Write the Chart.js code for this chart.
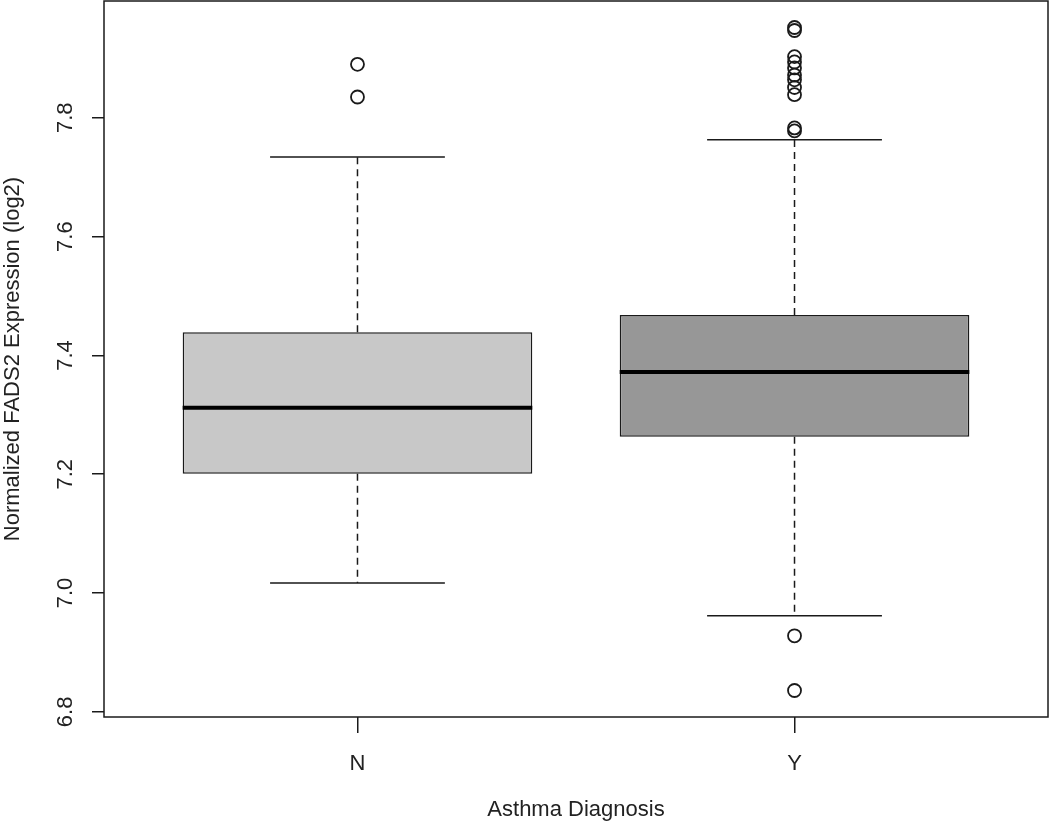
<!DOCTYPE html>
<html>
<head>
<meta charset="utf-8">
<script src="https://cdn.jsdelivr.net/npm/chart.js@4"></script>
<style>
  html, body { margin: 0; padding: 0; background: #fff; }
  #wrap { width: 1050px; height: 833px; }
</style>
</head>
<body>
<div id="wrap"><canvas id="boxChart"></canvas></div>
<script>
// boxplot summary
const groups        = ['N', 'Y'];
const lowerWhisker  = [7.017, 6.962];
const q1            = [7.201, 7.263];
const median        = [7.312, 7.372];
const q3            = [7.439, 7.468];
const upperWhisker  = [7.734, 7.763];
const outliersN     = [7.890, 7.835];
const outliersY     = [7.952, 7.947, 7.903, 7.894, 7.884, 7.872, 7.864, 7.851, 7.839, 7.783, 7.778, 6.928, 6.836];
const yTicks        = [6.8, 7.0, 7.2, 7.4, 7.6, 7.8];
const boxFill       = ['#c8c8c8', '#979797'];

const BOX_W  = 0.8;   // like R boxwex
const CAP_W  = 0.4;
const INK    = '#1a1a1a';

// R style axis limits: data range + 4%
const allVals = [].concat(lowerWhisker, upperWhisker, outliersN, outliersY);
const dMin = Math.min(...allVals), dMax = Math.max(...allVals);
const pad  = (dMax - dMin) * 0.04;
const xPad = (groups.length) * 0.04;

function segs(fn) {
  // build line points with null gaps between groups
  const pts = [];
  groups.forEach((g, i) => {
    fn(i + 1, i).forEach(p => pts.push(p));
    pts.push({ x: i + 1.5, y: null });
  });
  return pts;
}

const datasets = [
  {
    type: 'bar',
    data: groups.map((g, i) => ({ x: i + 1, y: [q1[i], q3[i]] })),
    backgroundColor: boxFill,
    borderColor: INK,
    borderWidth: 1.5,
    borderSkipped: false,
    barPercentage: BOX_W,
    categoryPercentage: 1,
    order: 10
  },
  {
    type: 'line',
    data: segs((x, i) => [{ x: x, y: q3[i] }, { x: x, y: upperWhisker[i] }, { x: x + 0.01, y: null },
                          { x: x, y: q1[i] }, { x: x, y: lowerWhisker[i] }]),
    borderColor: INK,
    borderWidth: 1.5,
    borderDash: [7, 5],
    pointRadius: 0,
    spanGaps: false,
    order: 5
  },
  {
    type: 'line',
    data: segs((x, i) => [{ x: x - CAP_W / 2, y: upperWhisker[i] }, { x: x + CAP_W / 2, y: upperWhisker[i] }, { x: x, y: null },
                          { x: x - CAP_W / 2, y: lowerWhisker[i] }, { x: x + CAP_W / 2, y: lowerWhisker[i] }]),
    borderColor: INK,
    borderWidth: 1.5,
    pointRadius: 0,
    spanGaps: false,
    order: 4
  },
  {
    type: 'line',
    data: segs((x, i) => [{ x: x - BOX_W / 2, y: median[i] }, { x: x + BOX_W / 2, y: median[i] }]),
    borderColor: '#000',
    borderWidth: 4,
    pointRadius: 0,
    spanGaps: false,
    order: 3
  },
  {
    type: 'scatter',
    data: outliersN.map(v => ({ x: 1, y: v })).concat(outliersY.map(v => ({ x: 2, y: v }))),
    pointStyle: 'circle',
    pointRadius: 6.5,
    pointBorderWidth: 1.8,
    pointBorderColor: INK,
    pointBackgroundColor: 'rgba(255,255,255,0)',
    order: 1
  }
];

const framePlugin = {
  id: 'frame',
  afterDraw(chart) {
    const a = chart.chartArea, ctx = chart.ctx;
    ctx.save();
    ctx.strokeStyle = INK;
    ctx.lineWidth = 1.5;
    ctx.strokeRect(a.left, a.top, a.right - a.left, a.bottom - a.top);
    ctx.restore();
  }
};

function noPad(s) {
  s.paddingTop = 0; s.paddingBottom = 0; s.paddingLeft = 0; s.paddingRight = 0;
}

Chart.defaults.font.family = '"Liberation Sans", Arial, Helvetica, sans-serif';
Chart.defaults.font.size = 22;
Chart.defaults.color = '#222';

new Chart(document.getElementById('boxChart'), {
  type: 'bar',
  data: { datasets: datasets },
  plugins: [framePlugin],
  options: {
    responsive: true,
    maintainAspectRatio: false,
    animation: false,
    layout: { autoPadding: false, padding: { left: 0, right: 2, top: 1, bottom: 0 } },
    plugins: { legend: { display: false }, tooltip: { enabled: false } },
    scales: {
      x: {
        type: 'linear',
        offset: false,
        min: 1 - 0.5 - xPad,
        max: groups.length + 0.5 + xPad,
        afterBuildTicks: s => { s.ticks = groups.map((g, i) => ({ value: i + 1 })); },
        afterFit: s => { s.height = 116; noPad(s); },
        ticks: {
          callback: v => groups[v - 1],
          padding: 18,
          maxRotation: 0,
          autoSkip: false
        },
        grid: { offset: false, drawOnChartArea: false, drawTicks: true, tickLength: 16, color: INK, lineWidth: 1.5 },
        border: { display: false },
        title: { display: true, text: 'Asthma Diagnosis', padding: { top: 0, bottom: 10 } }
      },
      y: {
        type: 'linear',
        min: dMin - pad,
        max: dMax + pad,
        afterBuildTicks: s => { s.ticks = yTicks.map(v => ({ value: v })); },
        afterFit: s => { s.width = 104; noPad(s); },
        ticks: {
          callback: v => v.toFixed(1),
          minRotation: 90,
          maxRotation: 90,
          crossAlign: 'center',
          padding: 11,
          autoSkip: false
        },
        grid: { drawOnChartArea: false, drawTicks: true, tickLength: 12, color: INK, lineWidth: 1.5 },
        border: { display: false },
        title: { display: true, text: 'Normalized FADS2 Expression (log2)', padding: { top: 0, bottom: 0 } }
      }
    }
  }
});
</script>
</body>
</html>
